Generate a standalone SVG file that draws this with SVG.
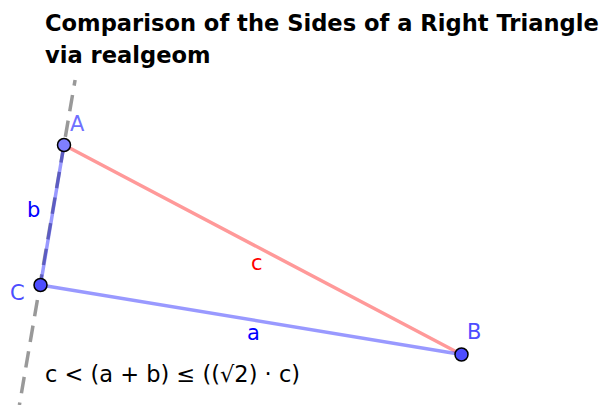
<svg xmlns="http://www.w3.org/2000/svg" width="599" height="405" viewBox="0 0 599 405">
<style>
.title{font-family:"DejaVu Sans",sans-serif;font-weight:bold;font-size:22.6px;fill:#000}
.lbl{font-family:"DejaVu Sans",sans-serif;font-size:21px}
.formula{font-family:"DejaVu Sans",sans-serif;font-size:22.5px;fill:#000}
.seg{stroke-width:3.5;stroke-linecap:round;fill:none;stroke-opacity:0.4}
.pt{stroke:#000;stroke-width:1.5}
</style>
<rect width="599" height="405" fill="#fff"/>
<g id="title">
<text class="title" x="45" y="31">Comparison of the Sides of a Right Triangle</text>
<text class="title" x="45" y="63">via realgeom</text>
</g>
<g id="connectors">
<line id="line-AC" x1="75.1" y1="80" x2="19.4" y2="405" stroke="#000" stroke-opacity="0.4" stroke-width="3.5" stroke-dasharray="16.5 9.5" stroke-dashoffset="10.76"/>
<line id="seg-c" class="seg" x1="64" y1="145" x2="461.5" y2="354.5" stroke="#ff0000"/>
<line id="seg-a" class="seg" x1="40.5" y1="285" x2="461.5" y2="354.5" stroke="#0000ff"/>
<line id="seg-b" class="seg" x1="64" y1="145" x2="40.5" y2="285" stroke="#0000ff"/>
</g>
<g id="label-b"><text class="lbl" x="27" y="216.5" fill="#0000ff">b</text></g>
<g id="label-c"><text class="lbl" x="251" y="269.5" fill="#ff0000">c</text></g>
<g id="label-a"><text class="lbl" x="247" y="340" fill="#0000ff">a</text></g>
<g id="A">
<circle class="pt" cx="64" cy="145" r="6.5" fill="#7f7fff"/>
<text class="lbl" x="70" y="131" fill="#7070ff">A</text>
</g>
<g id="C">
<circle class="pt" cx="40.5" cy="285" r="6.5" fill="#4d4dff"/>
<text class="lbl" x="10" y="300" fill="#4d4dff">C</text>
</g>
<g id="B">
<circle class="pt" cx="461.5" cy="354.5" r="6.5" fill="#4d4dff"/>
<text class="lbl" x="467" y="339" fill="#4d4dff">B</text>
</g>
<g id="formula">
<text class="formula" x="45" y="382">c &lt; (a + b) ≤ ((√2) · c)</text>
</g>
</svg>
